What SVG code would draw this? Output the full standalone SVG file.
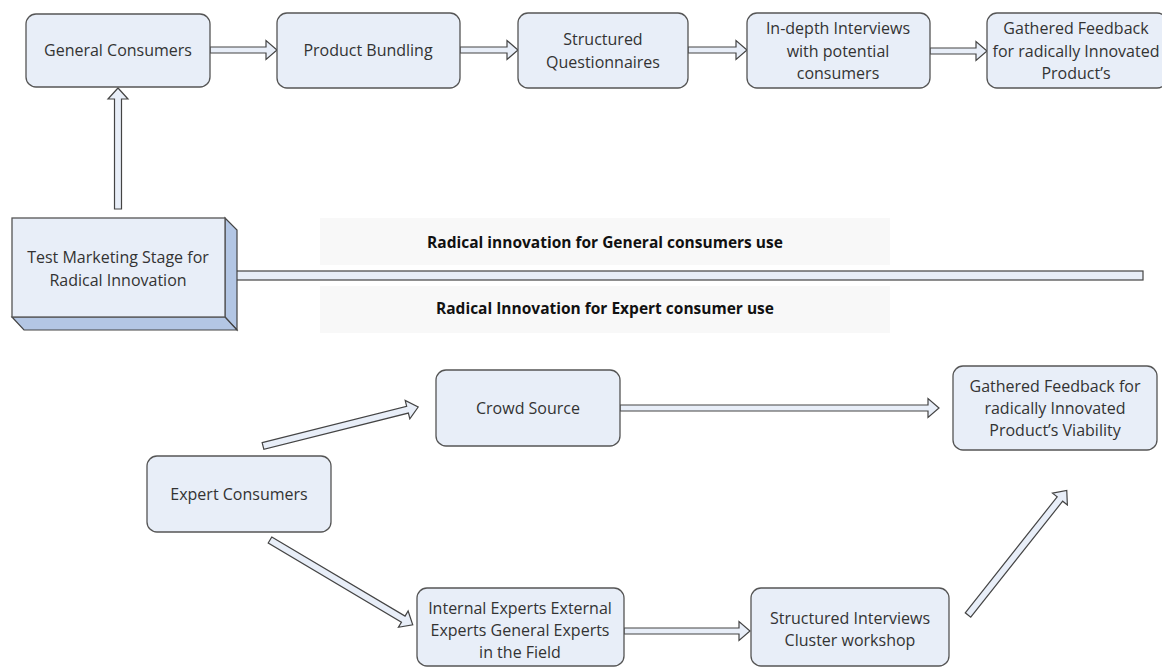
<svg xmlns="http://www.w3.org/2000/svg" width="1162" height="668" viewBox="0 0 1162 668">
<style>
.box{fill:#e8eef8;stroke:#555;stroke-width:1.3}
.side{fill:#b3c6e4;stroke:#444;stroke-width:1.2}
.arr{fill:#e8eef8;stroke:#444;stroke-width:1.2;stroke-linejoin:miter}
.t{font-family:"Open Sans","Liberation Sans",sans-serif;font-size:16px;fill:#333;text-anchor:middle}
.b{font-family:"Open Sans","Liberation Sans",sans-serif;font-size:15.5px;font-weight:bold;fill:#111;text-anchor:middle}
.band{fill:#f8f8f8}
</style>
<rect width="1162" height="668" fill="#fff"/>
<g id="labels">
<rect class="band" x="320" y="218" width="570" height="47"/>
<rect class="band" x="320" y="286" width="570" height="47"/>
<text class="b" x="605" y="248">Radical innovation for General consumers use</text>
<text class="b" x="605" y="314">Radical Innovation for Expert consumer use</text>
</g>
<g id="connectors">
<path class="arr" transform="translate(210,50)" d="M0,-3 H56 V-9.5 L67,0 L56,9.5 V3 H0 Z"/>
<path class="arr" transform="translate(460,50)" d="M0,-3 H47 V-9.5 L58,0 L47,9.5 V3 H0 Z"/>
<path class="arr" transform="translate(688,50)" d="M0,-3 H48 V-9.5 L59,0 L48,9.5 V3 H0 Z"/>
<path class="arr" transform="translate(930,51)" d="M0,-3 H46 V-9.5 L57,0 L46,9.5 V3 H0 Z"/>
<path class="arr" transform="translate(118,209) rotate(-90)" d="M0,-3.5 H110 V-10 L121,0 L110,10 V3.5 H0 Z"/>
<rect class="arr" x="234" y="271" width="909" height="9"/>
<path class="arr" transform="translate(263,446) rotate(-14.1)" d="M0,-3.5 H149 V-9.5 L160,0 L149,9.5 V3.5 H0 Z"/>
<path class="arr" transform="translate(620,408)" d="M0,-3 H308 V-9.5 L319,0 L308,9.5 V3 H0 Z"/>
<path class="arr" transform="translate(270,540) rotate(30.7)" d="M0,-3.5 H155 V-9.5 L166,0 L155,9.5 V3.5 H0 Z"/>
<path class="arr" transform="translate(624,631)" d="M0,-3 H115 V-9.5 L126,0 L115,9.5 V3 H0 Z"/>
<path class="arr" transform="translate(968,615) rotate(-51.6)" d="M0,-3.5 H148 V-9.5 L159,0 L148,9.5 V3.5 H0 Z"/>
</g>
<g id="general-consumers">
<rect class="box" x="26" y="14" width="184" height="73" rx="10"/>
<text class="t" x="118" y="56">General Consumers</text>
</g>
<g id="product-bundling">
<rect class="box" x="277" y="13" width="183" height="75" rx="10"/>
<text class="t" x="368" y="56">Product Bundling</text>
</g>
<g id="structured-questionnaires">
<rect class="box" x="518" y="13" width="170" height="75" rx="10"/>
<text class="t" x="603" y="45">Structured</text>
<text class="t" x="603" y="68">Questionnaires</text>
</g>
<g id="in-depth-interviews">
<rect class="box" x="747" y="13" width="183" height="75" rx="10"/>
<text class="t" x="838" y="34">In-depth Interviews</text>
<text class="t" x="838" y="57">with potential</text>
<text class="t" x="838" y="79">consumers</text>
</g>
<g id="gathered-feedback-general">
<rect class="box" x="987" y="13" width="180" height="75" rx="10"/>
<text class="t" x="1076" y="34">Gathered Feedback</text>
<text class="t" x="1076" y="57">for radically Innovated</text>
<text class="t" x="1076" y="79">Product’s</text>
</g>
<g id="test-marketing">
<polygon class="side" points="225,218 237,230 237,330 225,317"/>
<polygon class="side" points="12,317 225,317 237,330 24,330"/>
<rect class="box" x="12" y="218" width="213" height="99"/>
<text class="t" x="118" y="263">Test Marketing Stage for</text>
<text class="t" x="118" y="286">Radical Innovation</text>
</g>
<g id="expert-consumers">
<rect class="box" x="147" y="456" width="184" height="76" rx="10"/>
<text class="t" x="239" y="500">Expert Consumers</text>
</g>
<g id="crowd-source">
<rect class="box" x="436" y="370" width="184" height="76" rx="10"/>
<text class="t" x="528" y="414">Crowd Source</text>
</g>
<g id="gathered-feedback-expert">
<rect class="box" x="953" y="366" width="204" height="84" rx="10"/>
<text class="t" x="1055" y="392">Gathered Feedback for</text>
<text class="t" x="1055" y="414">radically Innovated</text>
<text class="t" x="1055" y="436">Product’s Viability</text>
</g>
<g id="internal-experts">
<rect class="box" x="417" y="588" width="207" height="78" rx="10"/>
<text class="t" x="520" y="614">Internal Experts External</text>
<text class="t" x="520" y="636">Experts General Experts</text>
<text class="t" x="520" y="658">in the Field</text>
</g>
<g id="structured-interviews">
<rect class="box" x="751" y="588" width="198" height="78" rx="10"/>
<text class="t" x="850" y="624">Structured Interviews</text>
<text class="t" x="850" y="646">Cluster workshop</text>
</g>
</svg>
